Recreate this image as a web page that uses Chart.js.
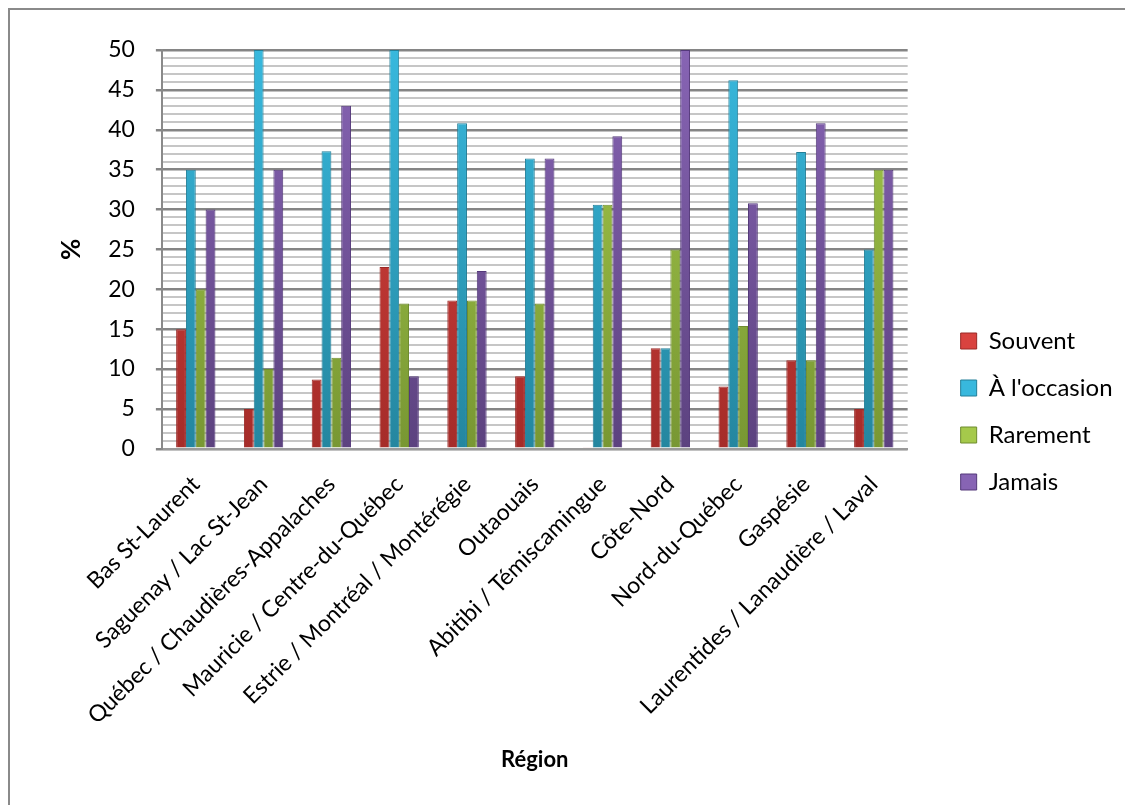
<!DOCTYPE html>
<html>
<head>
<meta charset="utf-8">
<script src="https://cdn.jsdelivr.net/npm/chart.js@4"></script>
<style>
  html, body { margin: 0; padding: 0; background: #fff; }
  #wrap { position: relative; width: 1125px; height: 805px; overflow: hidden; }
  #frame { position: absolute; left: 8px; top: 8px; width: 1200px; height: 900px;
           border-left: 2.5px solid #8a8a8a; border-top: 2.5px solid #8a8a8a; box-sizing: border-box; }
  canvas { position: absolute; left: 0; top: 0; }
</style>
</head>
<body>
<div id="wrap">
  <div id="frame"></div>
  <canvas id="c" width="1125" height="805"></canvas>
</div>
<script>
const categories = [
  'Bas St-Laurent',
  'Saguenay / Lac St-Jean',
  'Québec / Chaudières-Appalaches',
  'Mauricie / Centre-du-Québec',
  'Estrie / Montréal / Montérégie',
  'Outaouais',
  'Abitibi / Témiscamingue',
  'Côte-Nord',
  'Nord-du-Québec',
  'Gaspésie',
  'Laurentides / Lanaudière / Laval'
];
const seriesNames = ['Souvent', "À l'occasion", 'Rarement', 'Jamais'];
const souvent   = [15, 5, 8.7, 22.8, 18.6, 9.1, 0.2, 12.6, 7.8, 11.1, 5];
const occasion  = [35, 50, 37.3, 50, 40.8, 36.4, 30.6, 12.6, 46.2, 37.2, 25];
const rarement  = [20, 10, 11.4, 18.2, 18.6, 18.2, 30.6, 25, 15.4, 11.1, 35];
const jamais    = [30, 35, 43, 9.1, 22.3, 36.4, 39.2, 50, 30.8, 40.8, 35];
const yTicksMax = 50;

const palette = [
  { top: '#d9433f', bottom: '#a52c29', border: '#9a2a27' },
  { top: '#38b8dd', bottom: '#24869f', border: '#237f98' },
  { top: '#a5c94b', bottom: '#789733', border: '#6f8c2f' },
  { top: '#8764b4', bottom: '#5c427f', border: '#54397a' }
];

function grad(idx) {
  return function(ctx) {
    const ca = ctx.chart.chartArea;
    const p = palette[idx];
    if (!ca) return p.top;
    const g = ctx.chart.ctx.createLinearGradient(0, ca.top, 0, ca.bottom);
    g.addColorStop(0, p.top);
    g.addColorStop(1, p.bottom);
    return g;
  };
}

const seriesValues = [souvent, occasion, rarement, jamais];
const datasets = seriesValues.map((vals, i) => ({
  label: seriesNames[i],
  data: vals,
  backgroundColor: grad(i),
  borderColor: palette[i].border,
  borderWidth: 1,
  categoryPercentage: 0.58,
  barPercentage: 1.0
}));

Chart.defaults.font.family = 'Lato, "Open Sans", sans-serif';
Chart.defaults.color = '#000';

new Chart(document.getElementById('c'), {
  type: 'bar',
  data: { labels: categories, datasets },
  options: {
    responsive: false,
    animation: false,
    layout: { padding: { left: 56, top: 50, right: 11, bottom: 32 } },
    plugins: {
      tooltip: { enabled: false },
      legend: {
        position: 'right',
        align: 'center',
        labels: {
          font: { size: 24 },
          boxWidth: 16,
          boxHeight: 16,
          padding: 23,
          generateLabels(chart) {
            return chart.data.datasets.map((ds, i) => ({
              text: ds.label,
              fillStyle: palette[i].top,
              strokeStyle: palette[i].border,
              lineWidth: 1,
              datasetIndex: i
            }));
          }
        }
      }
    },
    scales: {
      x: {
        grid: { display: false },
        border: { display: true, color: '#9a9a9a', width: 2 },
        ticks: { font: { size: 23 }, minRotation: 45, maxRotation: 45, autoSkip: false, padding: 14 },
        title: { display: true, text: 'Région', font: { size: 22, weight: 'bold' }, padding: { top: 3, bottom: 0 } }
      },
      y: {
        min: 0,
        max: yTicksMax,
        border: { display: true, color: '#8a8a8a', width: 2 },
        grid: {
          color: c => (c.tick && c.tick.value % 5 === 0) ? '#858585' : '#c6c6c6',
          lineWidth: c => (c.tick && c.tick.value % 5 === 0) ? 2.5 : 2,
          tickColor: c => (c.tick && c.tick.value % 5 === 0) ? '#858585' : 'rgba(0,0,0,0)',
          tickLength: 6
        },
        ticks: {
          stepSize: 1,
          autoSkip: false,
          padding: 21,
          font: { size: 23 },
          callback: v => (v % 5 === 0 ? String(v) : '')
        },
        title: { display: true, text: '%', font: { size: 26, weight: 'bold' }, padding: { top: 0, bottom: 0 } }
      },
      spacer: {
        position: 'right',
        display: true,
        grid: { display: false },
        border: { display: false },
        ticks: { display: false },
        afterFit: s => { s.width = 30; }
      }
    }
  }
});
</script>
</body>
</html>
